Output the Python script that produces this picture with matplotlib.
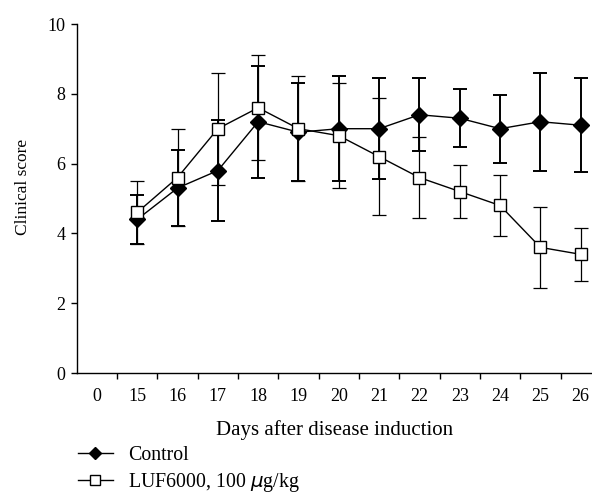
import numpy
import matplotlib
matplotlib.use('Agg')
import matplotlib.pyplot as plt

#Data
days = ['0', '15', '16', '17', '18', '19', '20', '21', '22', '23', '24', '25', '26']
control_days = ['15', '16', '17', '18', '19', '20', '21', '22', '23', '24', '25', '26']
control = [4.4, 5.3, 5.8, 7.2, 6.9, 7.0, 7.0, 7.4, 7.3, 7.0, 7.2, 7.1]
control_err = [0.7, 1.1, 1.45, 1.6, 1.4, 1.5, 1.45, 1.05, 0.83, 0.97, 1.4, 1.35]
luf = [4.6, 5.6, 7.0, 7.6, 7.0, 6.8, 6.2, 5.6, 5.2, 4.8, 3.6, 3.4]
luf_err = [0.9, 1.38, 1.6, 1.5, 1.5, 1.5, 1.67, 1.17, 0.76, 0.87, 1.17, 0.76]

plt.rcParams['font.family'] = 'Liberation Serif'
plt.rcParams['font.size'] = 13

fig = plt.figure(figsize=(5.92, 4.93), dpi=100)
ax = fig.add_axes([0.1296, 0.2434, 0.8704, 0.7079])

#categorical x positions
xpos = {d: i for i, d in enumerate(days)}
xc = numpy.array([xpos[d] for d in control_days])

#error bars first, markers on top
ax.errorbar(xc, control, yerr=control_err, fmt='none', ecolor='black',
            elinewidth=1.4, capsize=5, capthick=1.4, zorder=2)
ax.errorbar(xc, luf, yerr=luf_err, fmt='none', ecolor='black',
            elinewidth=0.9, capsize=5, capthick=0.9, zorder=2)

ax.plot(xc, control, '-D', color='black', mfc='black', ms=8, lw=1.0,
        label='Control', zorder=3)
ax.plot(xc, luf, '-s', color='black', mfc='white', mec='black', ms=8.5,
        mew=1.0, lw=1.0, label='LUF6000, 100 $\\mu$g/kg', zorder=4)

ax.set_xlim(-0.5, 12.28)
ax.set_ylim(0, 10)
ax.set_yticks([0, 2, 4, 6, 8, 10])
ax.set_xticks(range(len(days)))
ax.set_xticklabels(days)
ax.set_xticks(numpy.arange(0.5, len(days) - 1, 1.0), minor=True)
ax.tick_params(axis='x', which='major', length=0, pad=11)
ax.tick_params(axis='x', which='minor', length=4, width=1.0, direction='out')
ax.tick_params(axis='y', length=4, width=1.0, direction='out', pad=4)

ax.spines['top'].set_visible(False)
ax.spines['right'].set_visible(False)
ax.spines['left'].set_linewidth(1.0)
ax.spines['bottom'].set_linewidth(1.0)

ax.set_xlabel('Days after disease induction', fontsize=15, labelpad=11)
fig.text(23 / 592, 1 - 187 / 493, 'Clinical score', rotation=90,
         ha='center', va='center', fontsize=12.5)

fig.legend(loc='upper left', bbox_to_anchor=(78 / 592, 1 - 446 / 493),
           frameon=False, borderpad=0, borderaxespad=0, handlelength=1.75,
           handletextpad=0.75, labelspacing=0.3, fontsize=14.3,
           markerscale=0.8)

plt.savefig('out.png', dpi=100)
